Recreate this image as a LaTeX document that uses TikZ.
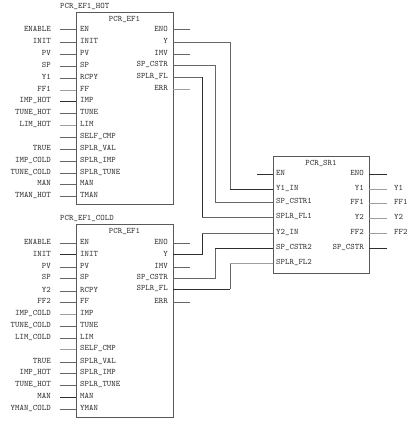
\documentclass[tikz,border=0pt]{standalone}
\usepackage{tikz}
\tikzset{
 block/.style={draw=black!65,line width=.8pt,anchor=north west,minimum width=97pt,inner sep=0pt},
 txt/.style={font=\fontsize{8.4pt}{9pt}\ttfamily,text=black!78,text height=5pt,text depth=1.5pt,inner ysep=0pt},
 pinl/.style={txt,anchor=west,inner xsep=4pt},
 pinr/.style={txt,anchor=east,inner xsep=5pt},
 extl/.style={txt,anchor=east,inner xsep=9pt},
 extr/.style={txt,anchor=west,inner xsep=7pt},
 mid/.style={draw=black!60,line width=1pt},
 dark/.style={draw=black!82,line width=.9pt},
 pale/.style={draw=black!38,line width=1pt}
}
\begin{document}
\begin{tikzpicture}[x=1pt,y=-1pt]
 \useasboundingbox (0,0) rectangle (419,424);
 % function blocks
 \node[block,minimum height=192pt] (hot) at (76,12) {};
 \node[block,minimum height=193pt] (cold) at (76,224) {};
 \node[block,minimum width=96pt,minimum height=117pt] (sr) at (273,156) {};
 \node[txt,anchor=west,inner xsep=0pt] (hotname) at (60,6.5) {PCR\_EF1\_HOT};
 \node[txt,anchor=west,inner xsep=0pt] (coldname) at (60,219) {PCR\_EF1\_COLD};
 \node[txt] (hottype) at (124.5,20) {PCR\_EF1};
 \node[txt] (coldtype) at (124.5,232) {PCR\_EF1};
 \node[txt] (srtype) at (321,164) {PCR\_SR1};
 % inputs of the hot block
 \foreach \i/\y/\ext/\pin/\w in {1/29.5/ENABLE/EN/mid,2/42/INIT/INIT/mid,3/54/PV/PV/mid,4/66/SP/SP/mid,
   5/78/Y1/RCPY/mid,6/90/FF1/FF/pale,7/101/IMP\_HOT/IMP/dark,8/113/TUNE\_HOT/TUNE/mid,9/125/LIM\_HOT/LIM/pale,
   10/137//SELF\_CMP/mid,11/149/TRUE/SPLR\_VAL/mid,12/161/IMP\_COLD/SPLR\_IMP/mid,
   13/173/TUNE\_COLD/SPLR\_TUNE/mid,14/184/MAN/MAN/mid,15/196/TMAN\_HOT/TMAN/mid}{
  \node[pinl] (hotL\i) at (76,\y) {\pin};
  \node[extl] (hotX\i) at (60,\y) {\ext};
  \draw[\w] (hotX\i.east)--(hotL\i.west);
 }
 % inputs of the cold block
 \foreach \i/\y/\ext/\pin/\w in {1/243/ENABLE/EN/mid,2/254.5/INIT/INIT/dark,3/267/PV/PV/mid,4/278/SP/SP/mid,
   5/291/Y2/RCPY/mid,6/302/FF2/FF/mid,7/314/IMP\_COLD/IMP/pale,8/326/TUNE\_COLD/TUNE/mid,9/338/LIM\_COLD/LIM/mid,
   10/349//SELF\_CMP/pale,11/362/TRUE/SPLR\_VAL/mid,12/373/IMP\_HOT/SPLR\_IMP/mid,
   13/385/TUNE\_HOT/SPLR\_TUNE/mid,14/397/MAN/MAN/dark,15/409/YMAN\_COLD/YMAN/mid}{
  \node[pinl] (coldL\i) at (76,\y) {\pin};
  \node[extl] (coldX\i) at (60,\y) {\ext};
  \draw[\w] (coldX\i.east)--(coldL\i.west);
 }
 % outputs of both blocks
 \foreach \i/\y/\pin in {1/29.5/ENO,2/42/Y,3/54/IMV,4/65/SP\_CSTR,5/77/SPLR\_FL,6/89/ERR}
  \node[pinr] (hotR\i) at (173,\y) {\pin};
 \foreach \i/\y/\pin in {1/243/ENO,2/254.5/Y,3/267/IMV,4/278/SP\_CSTR,5/289/SPLR\_FL,6/302/ERR}
  \node[pinr] (coldR\i) at (173,\y) {\pin};
 \foreach \b/\i/\y/\w in {hot/1/29.5/mid,hot/3/54/mid,hot/6/89/pale,cold/1/243/mid,cold/3/267/mid,cold/6/302/mid}{
  \coordinate (\b end\i) at (190,\y);
  \draw[\w] (\b R\i.east)--(\b end\i);
 }
 % the block on the right
 \foreach \i/\y/\pin in {1/174/EN,2/189/Y1\_IN,3/202/SP\_CSTR1,4/217/SPLR\_FL1,5/233/Y2\_IN,6/248/SP\_CSTR2,7/263/SPLR\_FL2}
  \node[pinl,inner xsep=3pt] (srL\i) at (273,\y) {\pin};
 \foreach \i/\y/\pin in {1/174/ENO,2/189/Y1,3/203/FF1,4/218/Y2,5/233/FF2,6/248/SP\_CSTR}
  \node[pinr] (srR\i) at (369,\y) {\pin};
 \foreach \i/\y/\ext/\w in {2/189/Y1/pale,3/203/FF1/pale,4/218/Y2/pale,5/233/FF2/pale}{
  \node[extr] (srX\i) at (387,\y) {\ext};
  \draw[\w] (srR\i.east)--(srX\i.west);
 }
 \coordinate (srfree) at (257,174);
 \coordinate (srend1) at (387,174);
 \coordinate (srend6) at (387,248);
 \draw[dark] (srfree)--(srL1.west);
 \draw[dark] (srR1.east)--(srend1);
 \draw[dark] (srR6.east)--(srend6);
 % wires between the blocks
 \coordinate (busA) at (230,0);
 \coordinate (busB) at (215,0);
 \coordinate (busC) at (202,0);
 \draw[mid] (hotR2.east)--(hotR2.east-|busA)--(busA|-srL2.west);
 \draw[dark] (busA|-srL2.west)--(srL2.west);
 \draw[mid] (hotR4.east)--(hotR4.east-|busB)--(busB|-srL3.west)--(srL3.west);
 \draw[mid] (hotR5.east)--(hotR5.east-|busC);
 \draw[dark] (hotR5.east-|busC)--(busC|-srL4.west);
 \draw[mid] (busC|-srL4.west)--(srL4.west);
 \draw[dark] (coldR2.east)--(coldR2.east-|busC)--(busC|-srL5.west);
 \draw[mid] (busC|-srL5.west)--(srL5.west);
 \draw[mid] (coldR4.east)--(coldR4.east-|busB)--(busB|-srL6.west);
 \draw[dark] (busB|-srL6.west)--(srL6.west);
 \draw[dark] (coldR5.east)--(coldR5.east-|busA);
 \draw[mid] (coldR5.east-|busA)--(busA|-srL7.west);
 \draw[pale] (busA|-srL7.west)--(srL7.west);
\end{tikzpicture}
\end{document}
